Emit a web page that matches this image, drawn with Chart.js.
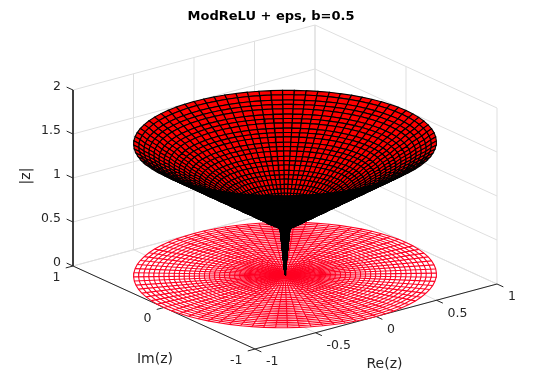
<!DOCTYPE html>
<html>
<head>
<meta charset="utf-8">
<title>ModReLU + eps</title>
<script src="https://cdn.jsdelivr.net/npm/chart.js@4"></script>
<style>
  body { margin: 0; background: #fff; }
  canvas { display: block; }
</style>
</head>
<body>
<canvas id="chart" width="550" height="390"></canvas>
<script>
// values
const titleText = 'ModReLU + eps, b=0.5';
const xTicks = [-1, -0.5, 0, 0.5, 1];
const yTicks = [-1, 0, 1];
const zTicks = [0, 0.5, 1, 1.5, 2];
const xTickLabels = ['-1', '-0.5', '0', '0.5', '1'];
const yTickLabels = ['-1', '0', '1'];
const zTickLabels = ['0', '0.5', '1', '1.5', '2'];

// polar mesh: one radius and one height per ring
const ringRadii = [0, 0.033, 0.067, 0.1, 0.133, 0.167, 0.2, 0.233, 0.267, 0.3, 0.333,
  0.367, 0.4, 0.433, 0.467, 0.5, 0.533, 0.567, 0.6, 0.633, 0.667,
  0.7, 0.733, 0.767, 0.8, 0.833, 0.867, 0.9, 0.933, 0.967, 1];
const ringHeights = [0, 0.53, 0.57, 0.6, 0.63, 0.67, 0.7, 0.73, 0.77, 0.8, 0.83,
  0.87, 0.9, 0.93, 0.97, 1, 1.03, 1.07, 1.1, 1.13, 1.17,
  1.2, 1.23, 1.27, 1.3, 1.33, 1.37, 1.4, 1.43, 1.47, 1.5];
const spokeAngles = [0, 4.5, 9, 13.5, 18, 22.5, 27, 31.5, 36, 40.5, 45, 49.5, 54, 58.5, 63, 67.5,
  72, 76.5, 81, 85.5, 90, 94.5, 99, 103.5, 108, 112.5, 117, 121.5, 126, 130.5, 135, 139.5,
  144, 148.5, 153, 157.5, 162, 166.5, 171, 175.5, 180, 184.5, 189, 193.5, 198, 202.5, 207, 211.5,
  216, 220.5, 225, 229.5, 234, 238.5, 243, 247.5, 252, 256.5, 261, 265.5, 270, 274.5, 279, 283.5,
  288, 292.5, 297, 301.5, 306, 310.5, 315, 319.5, 324, 328.5, 333, 337.5, 342, 346.5, 351, 355.5, 360];

const gridColor = '#dfdfdf';
const axisColor = '#262626';
const fontFamily = '"DejaVu Sans", sans-serif';

// 3d view, same as the figure: px per data unit on screen
function sx(x, y) { return 285 + 121 * x - 91 * y; }
function sy(x, y, z) { return 275 - 32.5 * x - 41.5 * y - 88 * z; }
function depth(x, y, z) { return -78.6 * x - 105 * y + 51 * z; }
function pt(x, y, z) { return { x: sx(x, y), y: sy(x, y, z) }; }
function polar(r, deg, z) {
  const a = deg * Math.PI / 180;
  return [r * Math.cos(a), r * Math.sin(a), z];
}

function lineSet(points, color, width) {
  return {
    data: points, showLine: true, fill: false, clip: false,
    borderColor: color, borderWidth: width, pointRadius: 0
  };
}

const datasets = [];

// walls and floor
xTicks.forEach(function (x) {
  datasets.push(lineSet([pt(x, -1, 0), pt(x, 1, 0), pt(x, 1, 2)], gridColor, 1));
});
yTicks.forEach(function (y) {
  datasets.push(lineSet([pt(-1, y, 0), pt(1, y, 0), pt(1, y, 2)], gridColor, 1));
});
zTicks.forEach(function (z) {
  datasets.push(lineSet([pt(-1, 1, z), pt(1, 1, z), pt(1, -1, z)], gridColor, 1));
});

// front axes and their ticks
datasets.push(lineSet([pt(-1, 1, 2), pt(-1, 1, 0), pt(-1, -1, 0), pt(1, -1, 0)], axisColor, 1));
xTicks.forEach(function (x) {
  datasets.push(lineSet([pt(x, -1, 0), pt(x, -1.07, 0)], axisColor, 1));
});
yTicks.forEach(function (y) {
  datasets.push(lineSet([pt(-1, y, 0), pt(-1.06, y, 0)], axisColor, 1));
});
zTicks.forEach(function (z) {
  datasets.push(lineSet([pt(-1, 1, z), pt(-1, 1.07, z)], axisColor, 1));
});

// flat disc on the floor: white base, then rings and spokes
const discRed = '#ff0022';
const rim = spokeAngles.map(function (deg) {
  const p = polar(1, deg, 0);
  return pt(p[0], p[1], 0);
});
const discBase = lineSet(rim, '#ffffff', 0);
discBase.fill = 'shape';
discBase.backgroundColor = '#ffffff';
datasets.push(discBase);
ringRadii.slice(1).forEach(function (r) {
  datasets.push(lineSet(spokeAngles.map(function (deg) {
    const p = polar(r, deg, 0);
    return pt(p[0], p[1], 0);
  }), discRed, 1.1));
});
spokeAngles.slice(1).forEach(function (deg) {
  const p = polar(1, deg, 0);
  datasets.push(lineSet([pt(0, 0, 0), pt(p[0], p[1], 0)], discRed, 1.1));
});

// surface cells, far ones first
const cells = [];
for (let i = 0; i < ringRadii.length - 1; i++) {
  for (let j = 0; j < spokeAngles.length - 1; j++) {
    const corners = [
      polar(ringRadii[i], spokeAngles[j], ringHeights[i]),
      polar(ringRadii[i + 1], spokeAngles[j], ringHeights[i + 1]),
      polar(ringRadii[i + 1], spokeAngles[j + 1], ringHeights[i + 1]),
      polar(ringRadii[i], spokeAngles[j + 1], ringHeights[i])
    ];
    let d = 0;
    corners.forEach(function (c) { d += depth(c[0], c[1], c[2]) / 4; });
    cells.push({ corners: corners, d: d });
  }
}
cells.sort(function (a, b) { return a.d - b.d; });
cells.forEach(function (cell) {
  const pts = cell.corners.map(function (c) { return pt(c[0], c[1], c[2]); });
  // outer side of the cone: edges are so tight there it reads as solid black
  let area = 0;
  pts.forEach(function (p, k) {
    const q = pts[(k + 1) % pts.length];
    area += p.x * q.y - q.x * p.y;
  });
  pts.push(pts[0]);
  const set = lineSet(pts, '#000000', 1.1);
  set.fill = 'shape';
  set.backgroundColor = area > 0 ? '#000000' : '#ff0000';
  datasets.push(set);
});

// chart.js paints the last dataset first
datasets.reverse();

// tick and axis text, placed through the chart's scales
const axisText = {
  id: 'axisText',
  afterDraw: function (chart) {
    const ctx = chart.ctx;
    const sX = chart.scales.x, sY = chart.scales.y;
    function put(text, x, y, align) {
      ctx.textAlign = align;
      ctx.fillText(text, sX.getPixelForValue(x), sY.getPixelForValue(y));
    }
    ctx.save();
    ctx.fillStyle = axisColor;
    ctx.textBaseline = 'middle';
    ctx.font = '12.5px ' + fontFamily;
    xTicks.forEach(function (x, i) {
      put(xTickLabels[i], sx(x, -1) + 11, sy(x, -1, 0) + 13, 'left');
    });
    yTicks.forEach(function (y, i) {
      put(yTickLabels[i], sx(-1, y) - 12.5, sy(-1, y, 0) + 11.5, 'right');
    });
    zTicks.forEach(function (z, i) {
      put(zTickLabels[i], sx(-1, 1) - 12, sy(-1, 1, z) - 3.5, 'right');
    });
    ctx.font = '14px ' + fontFamily;
    put('Re(z)', 384.5, 364, 'center');
    put('Im(z)', 155, 359, 'center');
    ctx.translate(sX.getPixelForValue(26), sY.getPixelForValue(176));
    ctx.rotate(-Math.PI / 2);
    ctx.textAlign = 'center';
    ctx.fillText('|z|', 0, 0);
    ctx.restore();
  }
};

new Chart(document.getElementById('chart').getContext('2d'), {
  type: 'scatter',
  data: { datasets: datasets },
  plugins: [axisText],
  options: {
    responsive: false,
    animation: false,
    events: [],
    layout: { padding: { right: 8 } },
    scales: {
      x: { display: false, min: 0, max: 542 },
      y: { display: false, min: 26, max: 390, reverse: true }
    },
    plugins: {
      legend: { display: false },
      tooltip: { enabled: false },
      title: {
        display: true,
        text: titleText,
        color: '#000000',
        padding: { top: 9, bottom: 1 },
        font: { family: fontFamily, size: 13, weight: 'bold', lineHeight: '16px' }
      }
    }
  }
});
</script>
</body>
</html>
